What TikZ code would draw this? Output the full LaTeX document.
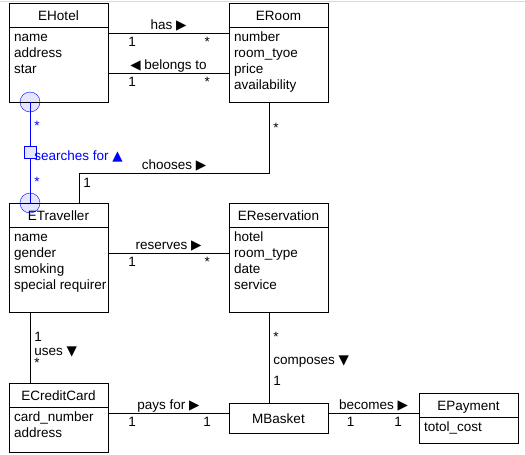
\documentclass[tikz,border=0pt]{standalone}
\usepackage{fontspec}
\setmainfont{Liberation Sans}
\newfontfamily\symb{DejaVu Sans}
\usetikzlibrary{positioning,backgrounds}

\begin{document}
\begin{tikzpicture}[
  x=1pt, y=-1pt,
  font=\fontsize{13.5}{16}\selectfont,
  line width=0.8pt,
  head/.style={draw, minimum width=99pt, minimum height=24pt, inner sep=0pt, outer sep=0pt, text height=11pt, text depth=0pt},
  body/.style={draw, inner xsep=5pt, inner ysep=3pt, outer sep=0pt},
  rel/.style={anchor=base, yshift=4pt, inner sep=0pt},
  mult/.style={anchor=base, yshift=-13pt, inner sep=0pt},
  vmult/.style={anchor=base west, xshift=4pt, inner sep=0pt},
  knob/.style={circle, draw=blue, fill=blue!10, minimum size=20pt, inner sep=0pt}
]
\useasboundingbox (0,0) rectangle (525,455);
\draw[black!15, line width=1pt] (0,1) -- (525,1);

\node[head, anchor=north west] (hotel) at (9,3) {EHotel};
\node[body, below=0pt of hotel] (hotelb) {\parbox[t][69pt][t]{89pt}{\raggedright\strut name\\address\\star}};
\node[head, right=121pt of hotel] (room) {ERoom};
\node[body, below=0pt of room] (roomb) {\parbox[t][69pt][t]{89pt}{\raggedright\strut number\\room\_tyoe\\price\\availability}};

\node[head, below=101pt of hotelb] (trav) {ETraveller};
\node[body, below=0pt of trav] (travb) {\parbox[t][79pt][t]{89pt}{\raggedright\strut name\\gender\\smoking\\\mbox{special requirer}}};
\node[head, right=121pt of trav] (resv) {EReservation};
\node[body, below=0pt of resv] (resvb) {\parbox[t][79pt][t]{89pt}{\raggedright\strut hotel\\room\_type\\date\\service}};

\node[head, below=71pt of travb] (credit) {ECreditCard};
\node[body, below=0pt of credit] (creditb) {\parbox[t][39pt][t]{89pt}{\raggedright\strut card\_number\\address}};
\node[head, minimum height=30pt, below=91pt of resvb] (basket) {MBasket};
\node[head, anchor=north west] (pay) at (419,393) {EPayment};
\node[body, below=0pt of pay] (payb) {\parbox[t][20pt][t]{89pt}{\raggedright\strut totol\_cost}};

% navigability knobs
\begin{scope}[on background layer]
\node[knob] (hc) at ([xshift=21pt]hotelb.south west) {};
\node[knob] (tc) at ([xshift=21pt]trav.north west) {};
\end{scope}

\draw ([yshift=-6pt]hotelb.north east) -- node[midway, rel]{has {\symb ▶}} node[pos=0.2, mult]{1} node[pos=0.82, mult]{*} ([yshift=-6pt]roomb.north west);
\draw ([yshift=-46pt]hotelb.north east) -- node[midway, rel]{{\symb ◀} belongs to} node[pos=0.2, mult]{1} node[pos=0.82, mult]{*} ([yshift=-46pt]roomb.north west);

\draw[blue] (hc.center) -- node[pos=0.28, vmult]{*}
  node[midway, draw, fill=blue!10, minimum width=12pt, minimum height=12pt, inner sep=0pt]{}
  node[midway, anchor=base west, inner sep=0pt, xshift=4pt, yshift=-8pt]{searches for {\symb ▲}}
  node[pos=0.84, vmult]{*} (tc.center);

\draw ([xshift=-9.5pt]roomb.south) -- node[pos=0.43, vmult]{*} ++(0,71)
  -- node[midway, rel]{chooses {\symb ▶}} ++(-190,0)
  -- node[pos=0.47, vmult]{1} ([xshift=20.5pt]trav.north);

\draw ([yshift=-26pt]travb.north east) -- node[midway, rel]{reserves {\symb ▶}} node[pos=0.2, mult]{1} node[pos=0.82, mult]{*} ([yshift=-26pt]resvb.north west);

\draw ([xshift=-28.5pt]travb.south) -- node[pos=0.41, vmult]{1} node[pos=0.61, vmult]{uses {\symb ▼}} node[pos=0.775, vmult]{*} ([xshift=-28.5pt]credit.north);
\draw ([xshift=-9.5pt]resvb.south) -- node[pos=0.32, vmult]{*} node[pos=0.58, vmult]{composes {\symb ▼}} node[pos=0.81, vmult]{1} ([xshift=-9.5pt]basket.north);

\draw ([yshift=-6pt]creditb.north east) -- node[midway, rel]{pays for {\symb ▶}} node[pos=0.2, mult]{1} node[pos=0.82, mult]{1} ([yshift=-10pt]basket.north west);
\draw ([yshift=-10pt]basket.north east) -- node[midway, rel]{becomes {\symb ▶}} node[pos=0.25, mult]{1} node[pos=0.77, mult]{1} ([yshift=-20pt]pay.north west);
\end{tikzpicture}
\end{document}
